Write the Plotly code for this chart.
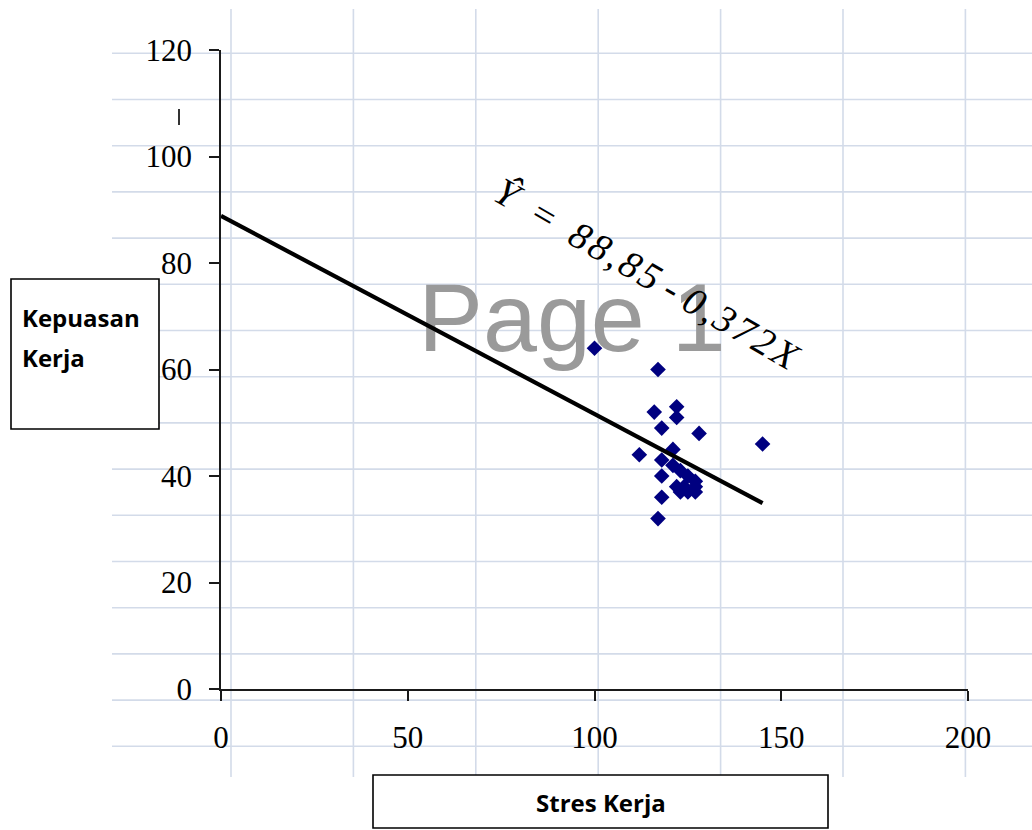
import numpy as np
import plotly.graph_objects as go

# ---------------- data ----------------
stres_kerja = [100, 117, 122, 116, 122, 118, 128, 145, 112, 121, 118, 121,
               123, 118, 125, 127, 122, 124, 127, 123, 125, 127, 118, 117]
kepuasan_kerja = [64, 60, 53, 52, 51, 49, 48, 46, 44, 45, 43, 42,
                  41, 40, 40, 39, 38, 38, 38, 37, 37, 37, 36, 32]
intercept = 88.85
slope = -0.372
x_ticks = [0, 50, 100, 150, 200]
y_ticks = [0, 20, 40, 60, 80, 100, 120]
equation_text = "Ŷ = 88,85 - 0,372X"
x_title = "Stres Kerja"
y_title_lines = ["Kepuasan", "Kerja"]
watermark = "Page 1"

# ---------------- layout geometry (pixels) ----------------
W, H = 1032, 830
L, R, T, B = 221, 968, 50, 689  # plot area in pixels


def px(xp):
    return (xp - L) / (R - L)


def py(yp):
    return (B - yp) / (B - T)


def spaced(text):
    """Letter-spaced equation: hair spaces between glyphs, wider around '='."""
    hs = "\u200a"
    out = []
    for i, ch in enumerate(text):
        if ch == " ":
            prev = text[i - 1] if i > 0 else ""
            nxt = text[i + 1] if i + 1 < len(text) else ""
            if prev == "-" or nxt == "-":
                out.append(hs + hs)
            else:
                out.append(" " + hs + hs)
        else:
            out.append(ch + hs)
    return "".join(out).rstrip(hs)


line_x = np.array([0, max(stres_kerja)], dtype=float)
line_y = intercept + slope * line_x

fig = go.Figure()
fig.add_trace(go.Scatter(
    x=stres_kerja, y=kepuasan_kerja, mode="markers",
    marker=dict(symbol="diamond", size=12, color="#000080", line=dict(width=0)),
    showlegend=False, hoverinfo="skip"))
fig.add_trace(go.Scatter(
    x=line_x, y=line_y, mode="lines",
    line=dict(color="black", width=4.2),
    showlegend=False, hoverinfo="skip"))

shapes = []
grid_col = "#d3dbe9"
# spreadsheet-like background grid
for k in range(7):
    xv = 231 + 122.4 * k
    shapes.append(dict(type="line", xref="paper", yref="paper",
                       x0=px(xv), x1=px(xv), y0=py(9), y1=py(777),
                       line=dict(color=grid_col, width=1.6), layer="below"))
for k in range(16):
    yh = 53.3 + 46.2 * k
    shapes.append(dict(type="line", xref="paper", yref="paper",
                       x0=px(112), x1=px(1032), y0=py(yh), y1=py(yh),
                       line=dict(color=grid_col, width=1.6), layer="below"))
# watermark
shapes.append(dict(type="rect", xref="paper", yref="paper",
                   x0=px(422), x1=px(722), y0=py(371), y1=py(245),
                   line=dict(width=0), fillcolor="rgba(0,0,0,0)", layer="below",
                   label=dict(text=watermark, textposition="middle center",
                              font=dict(family="Liberation Sans, Arial", size=97,
                                        color="#9a9a9a"))))
# stray mark
shapes.append(dict(type="line", xref="paper", yref="paper",
                   x0=px(179), x1=px(179), y0=py(109), y1=py(125),
                   line=dict(color="#333333", width=2), layer="above"))
# label boxes
shapes.append(dict(type="rect", xref="paper", yref="paper",
                   x0=px(11), x1=px(159), y0=py(429), y1=py(279),
                   line=dict(color="black", width=1.6), fillcolor="white", layer="above"))
shapes.append(dict(type="rect", xref="paper", yref="paper",
                   x0=px(373), x1=px(828), y0=py(828), y1=py(775),
                   line=dict(color="black", width=1.6), fillcolor="white", layer="above"))

label_font = dict(family="Open Sans, Noto Sans, sans-serif", size=24, color="black")
annotations = [
    dict(xref="paper", yref="paper", x=px(20), y=py(317), xanchor="left", yanchor="middle",
         text="<b>" + y_title_lines[0] + "</b>", showarrow=False, font=label_font),
    dict(xref="paper", yref="paper", x=px(20), y=py(357), xanchor="left", yanchor="middle",
         text="<b>" + y_title_lines[1] + "</b>", showarrow=False, font=label_font),
    dict(xref="paper", yref="paper", x=px(601), y=py(803), xanchor="center", yanchor="middle",
         text="<b>" + x_title + "</b>", showarrow=False, font=label_font),
    dict(xref="paper", yref="paper", x=px(647), y=py(273.5), xanchor="center", yanchor="middle",
         text=spaced(equation_text), showarrow=False, textangle=30,
         font=dict(family="Liberation Serif, Times New Roman, serif", size=38.5,
                   color="black", style="italic")),
]

tick_font = dict(family="Liberation Serif, Times New Roman, serif", size=31, color="black")
fig.update_layout(
    width=W, height=H,
    margin=dict(l=L, r=W - R, t=T, b=H - B, pad=0, autoexpand=False),
    paper_bgcolor="white", plot_bgcolor="rgba(0,0,0,0)",
    shapes=shapes, annotations=annotations,
    xaxis=dict(range=[0, 200], tickvals=x_ticks, ticktext=[str(v) for v in x_ticks],
               showgrid=False, zeroline=False, showline=True, linecolor="#1a1a1a",
               linewidth=1.6, ticks="outside", ticklen=10, tickwidth=1.6,
               tickcolor="#1a1a1a", tickfont=tick_font, ticklabelstandoff=10,
               fixedrange=True, automargin=False),
    yaxis=dict(range=[0, 120], tickvals=y_ticks, ticktext=[str(v) for v in y_ticks],
               showgrid=False, zeroline=False, showline=True, linecolor="#1a1a1a",
               linewidth=1.6, ticks="outside", ticklen=10, tickwidth=1.6,
               tickcolor="#1a1a1a", tickfont=tick_font, ticklabelstandoff=11,
               fixedrange=True, automargin=False),
)

fig.write_html("out.html")
